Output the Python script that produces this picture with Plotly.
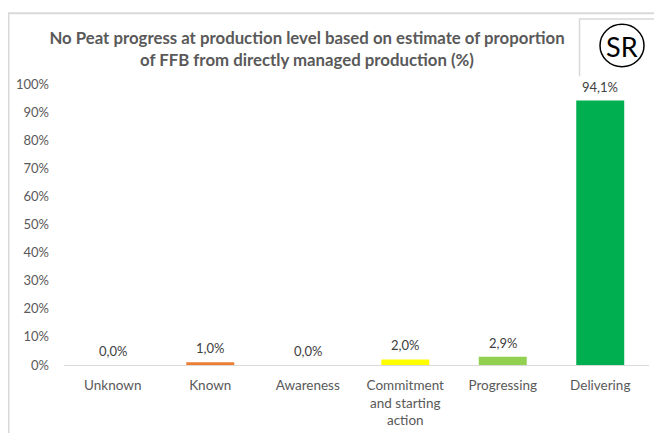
import plotly.graph_objects as go

categories = ["Unknown", "Known", "Awareness", "Commitment<br>and starting<br>action", "Progressing", "Delivering"]
values = [0.0, 0.010, 0.0, 0.020, 0.029, 0.941]
colors = ["#FF0000", "#ED7D31", "#FFC000", "#FFFF00", "#92D050", "#00B050"]
value_labels = [f"{v * 100:.1f}%".replace(".", ",") for v in values]
y_ticks = [i / 10 for i in range(11)]

# the page body adds an 8px margin on every side, so the figure is drawn 16px smaller
OFF = 8
W, H = 662 - 2 * OFF, 441 - 2 * OFF
# plot area in screen pixels: x 64..649, y 84..376
L, R, T, B = 64 - OFF, (662 - OFF) - 649, 84 - OFF, (441 - OFF) - 376
PW, PH = W - L - R, H - T - B

def px(x):
    return (x - OFF - L) / PW

def py(y):
    return (H - B - (y - OFF)) / PH

fig = go.Figure(go.Bar(
    x=categories, y=values,
    marker=dict(color=colors, line=dict(width=0)),
    hoverinfo="skip",
))

gray = "#D9D9D9"
shapes = [
    dict(type="line", xref="paper", yref="paper", x0=px(8.5), x1=px(8.5), y0=py(10), y1=py(450), line=dict(color=gray, width=2)),
    dict(type="line", xref="paper", yref="paper", x0=px(8), x1=px(675), y0=py(10.5), y1=py(10.5), line=dict(color=gray, width=2)),
    dict(type="line", xref="paper", yref="paper", x0=px(579.5), x1=px(579.5), y0=py(16), y1=py(76), line=dict(color=gray, width=1.5)),
    dict(type="line", xref="paper", yref="paper", x0=px(579), x1=px(675), y0=py(16.5), y1=py(16.5), line=dict(color=gray, width=1.5)),
    dict(type="circle", xref="paper", yref="paper", x0=px(600), x1=px(644), y0=py(22), y1=py(66), line=dict(color="#000000", width=1.5)),
]

annotations = [dict(
    text="SR", xref="paper", yref="paper", x=px(622), y=py(45),
    xanchor="center", yanchor="middle", showarrow=False,
    font=dict(family="Lato, sans-serif", size=27, color="#000000"),
)]
for c, v, t in zip(categories, values, value_labels):
    annotations.append(dict(
        x=c, y=v, xref="x", yref="y", text=t, showarrow=False,
        xanchor="center", yanchor="bottom", yshift=4,
        font=dict(family="Lato, sans-serif", size=13, color="#404040"),
    ))

fig.update_layout(
    width=W, height=H,
    margin=dict(l=L, r=R, t=T, b=B),
    paper_bgcolor="white", plot_bgcolor="white",
    showlegend=False,
    bargap=0.508,
    font=dict(family="Lato, sans-serif", color="#595959"),
    title=dict(
        text="<b>No Peat progress at production level based on estimate of proportion<br>of FFB from directly managed production (%)</b>",
        x=(307 - OFF) / W, xanchor="center", xref="container",
        y=1 - 36 / H, yanchor="top", yref="container",
        font=dict(family="Lato, sans-serif", size=16.8, color="#595959"),
    ),
    xaxis=dict(
        showgrid=False, zeroline=False, showline=True, linecolor=gray, linewidth=1,
        ticks="", tickfont=dict(size=13.5, color="#595959"), tickangle=0,
        ticklabelstandoff=8,
    ),
    yaxis=dict(
        range=[0, 1], tickvals=y_ticks, tickformat=".0%",
        showgrid=False, zeroline=False, showline=False, ticks="",
        ticklabelstandoff=14,
        tickfont=dict(size=13, color="#595959"),
    ),
    shapes=shapes,
    annotations=annotations,
)

fig.write_html("out.html")
